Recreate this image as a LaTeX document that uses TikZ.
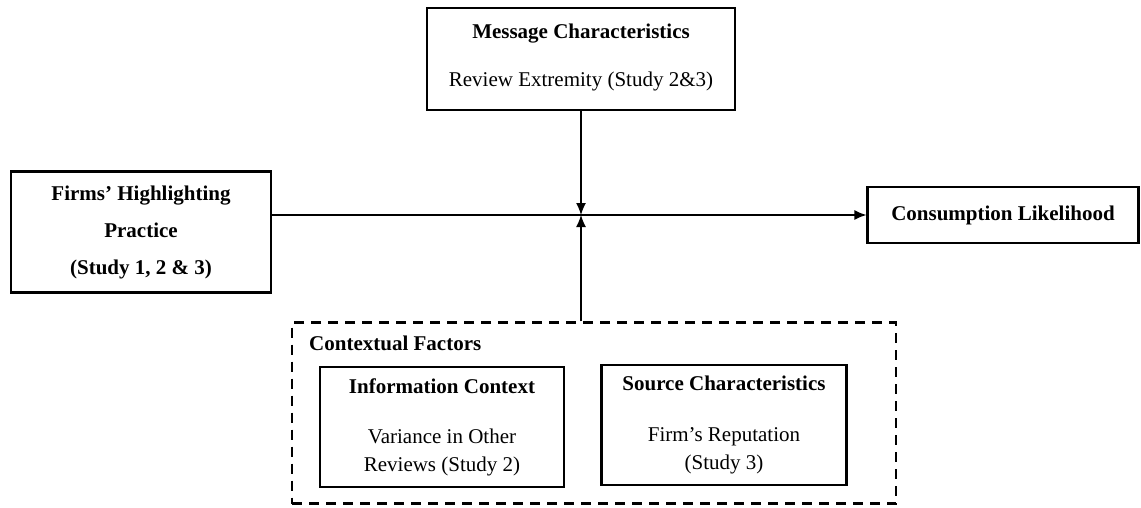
\documentclass[tikz,border=0pt]{standalone}
\usepackage{fontspec}
\setmainfont{Liberation Serif}
\usetikzlibrary{arrows.meta}
\begin{document}
\begin{tikzpicture}[x=1pt, y=-1pt, every node/.style={font=\fontsize{21}{28}\selectfont,align=center,inner sep=0pt},
    box/.style={draw,line width=2.2pt}, arr/.style={line width=1.3pt,-{Latex[length=12pt,width=10pt]}}]
          \useasboundingbox (0,0) rectangle (1141,508);
          \node [box,minimum width=308pt,minimum height=102pt] (msg) at (581,59) {\textbf{Message Characteristics}\\[20pt] Review Extremity (Study 2\&3)\\[-20pt]\mbox{}};
          \node [box,minimum width=260pt,minimum height=121pt] (firms) at (141,232) {\textbf{Firms’ Highlighting}\\[9pt] \textbf{Practice}\\[9pt] \textbf{(Study 1, 2 \& 3)}};
          \node [box,minimum width=271pt,minimum height=56pt] (cons) at (1003,215) {\textbf{Consumption Likelihood}};
          \node [draw,line width=2.2pt,dash pattern=on 10pt off 7pt,minimum width=604pt,minimum height=181pt] (ctx) at (594,413) {};
          \node [anchor=west] (ctxlabel) at (309,343) {\textbf{Contextual Factors}};
          \node [box,minimum width=244pt,minimum height=120pt] (info) at (442,427) {\textbf{Information Context}\\[22pt] Variance in Other\\ Reviews (Study 2)};
          \node [box,minimum width=245pt,minimum height=120pt] (src) at (724,425) {\textbf{Source Characteristics}\\[23pt] Firm’s Reputation\\ (Study 3)};
          \coordinate (hub) at (msg.south |- cons.west);
          \draw [arr] (firms.east |- cons.west) -- (cons.west);
          \draw [arr] (msg.south) -- (hub);
          \draw [arr] (hub |- ctx.north) -- (hub);
        \end{tikzpicture}
\end{document}
